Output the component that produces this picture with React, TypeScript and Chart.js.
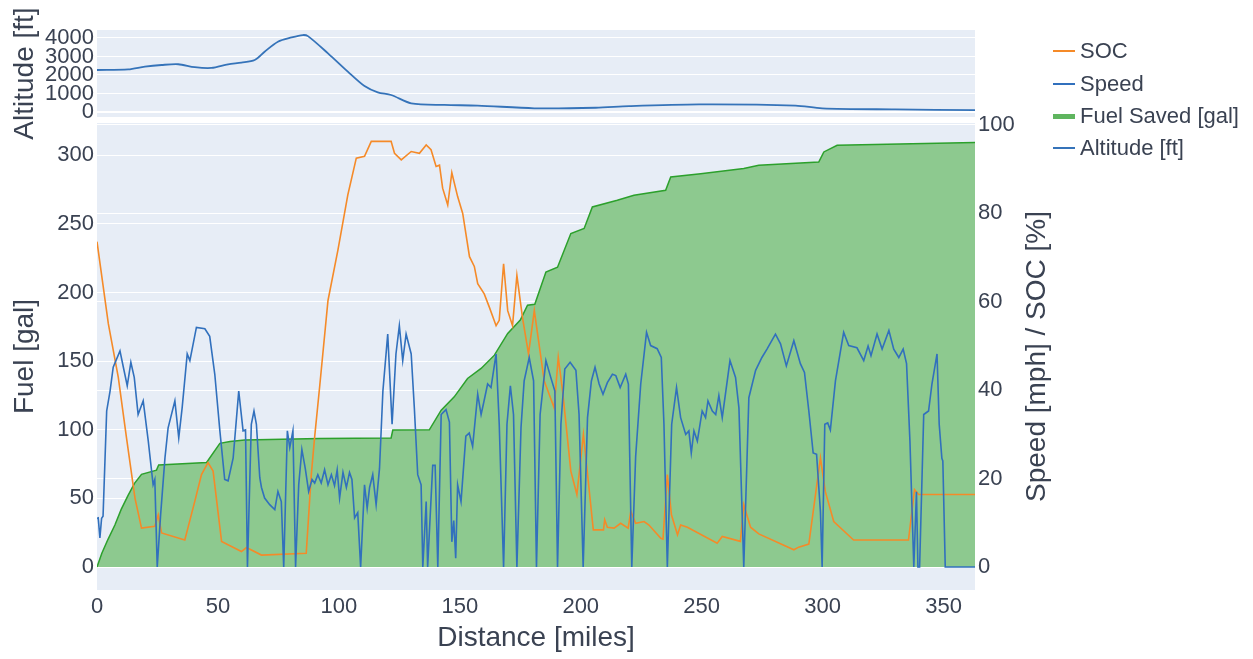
import React, { useEffect, useRef } from 'react';
import { Chart, registerables } from 'chart.js';

Chart.register(...registerables);

const FONT = '"Liberation Sans", Arial, Helvetica, sans-serif';
const TEXT = '#3a4252';
const BG = '#e7edf6';
const GRID = '#ffffff';
const SOC_COLOR = '#f58a28';
const SPEED_COLOR = '#3170bd';
const ALT_COLOR = '#3573b9';
const FUEL_LINE = '#2ca02c';
const FUEL_FILL = '#8dc98f';

// tick labels
const xTicks = [0, 50, 100, 150, 200, 250, 300, 350];
const fuelTicks = [0, 50, 100, 150, 200, 250, 300];
const pctTicks = [0, 20, 40, 60, 80, 100];
const altTicks = [0, 1000, 2000, 3000, 4000];

// Fuel Saved [gal]
const fuelMiles = [0, 2, 4.5, 7.4, 10, 12.9, 15.5, 18.4, 24.6, 25.5, 45.3, 50.8, 55, 61, 92, 121.6, 122.3, 137.4, 142.3, 147.7, 153.2, 158.8, 164.3, 169.8, 175, 178, 181, 185.6, 190.4, 195.9, 201.4, 204.8, 215.1, 222, 235.1, 237.2, 249.6, 267.4, 273.6, 298.4, 300.5, 306, 363];
const fuelGal = [0, 10, 20, 30.6, 42, 52.4, 61, 67.5, 70.6, 74.3, 76.2, 90.1, 91.5, 92.5, 93.7, 94, 99.8, 100, 114.3, 124, 137.4, 144.7, 154.4, 170.2, 180, 190.8, 191.5, 215, 218.5, 243, 246.7, 262.4, 267.3, 271, 274.6, 284.3, 286.7, 290.4, 292.8, 295.2, 302.5, 307.4, 309.3];

// Speed [mph]
const speedMiles = [0, 0.5, 1.2, 1.9, 2.5, 4, 5.4, 6.7, 9.5, 10.9, 12.5, 14, 15.4, 17, 19.1, 21.2, 23.2, 23.9, 24.9, 26.3, 28.1, 29.4, 32.2, 33.8, 35.2, 37.3, 38.4, 41.1, 44.6, 46.6, 48.7, 50.8, 52.8, 54.2, 56.3, 58.6, 60.4, 61.4, 62.2, 63.8, 64.9, 65.9, 67.3, 68, 69.3, 71.4, 73.5, 74.8, 76.2, 77.2, 78.7, 79.7, 81, 82.1, 83.4, 84.7, 86.1, 87.5, 88.9, 90, 91.3, 92.7, 94.1, 95.5, 96.9, 98.2, 99.3, 100.3, 101.7, 103.1, 104.4, 105.4, 106.5, 107.8, 109, 110.6, 111.7, 112.7, 114, 115.4, 116.8, 118.2, 120.2, 122, 123.6, 125, 126.4, 127.8, 129.9, 131.2, 132.6, 134, 134.7, 136.1, 136.7, 138.8, 139.8, 140.9, 142.3, 144.3, 145.7, 146.7, 147.5, 148.3, 149.1, 150.5, 152.5, 153.9, 155.3, 157.4, 158.8, 159.8, 161.5, 162.9, 165, 166.3, 168.1, 169.5, 170.9, 172.2, 173.6, 175.3, 176.6, 178.7, 180.5, 181.7, 183.2, 185.6, 187.6, 189.3, 190.4, 191.8, 193.4, 195.6, 198, 199.3, 201, 202.8, 204.4, 205.9, 207.6, 209.2, 211, 213.1, 214.5, 216.3, 218.6, 219.7, 221.1, 222.7, 224.8, 227.2, 228.9, 231.6, 233.3, 234.4, 235.8, 237.6, 239.6, 241.3, 243.4, 244.7, 245.7, 246.8, 248.2, 250.2, 251.6, 252.6, 254.4, 255.8, 257.1, 258.5, 261.7, 264, 265.4, 267.4, 269.5, 272.3, 274.9, 277, 280.5, 282.6, 285, 288.1, 290.8, 292.5, 294.3, 296.1, 297.5, 299.1, 299.8, 300.9, 302.1, 303.2, 305.3, 308.7, 310.8, 314.2, 317, 318.8, 320, 322.5, 324.6, 327.4, 329.4, 331.5, 333.3, 334.7, 336.1, 337, 337.7, 338.8, 339.4, 340.1, 341.8, 343.8, 345.2, 347.3, 348.2, 349.3, 349.7, 350.7, 363];
const speedMph = [11, 11.1, 6.6, 11, 11.5, 35.3, 39.8, 45.2, 48.9, 45.2, 41, 46.3, 42.9, 34.5, 37.6, 28.5, 18.6, 19.8, 0, 11.8, 24.7, 31.5, 37.6, 29.2, 36, 48.2, 46.7, 54.2, 53.9, 52.2, 43.6, 30.8, 19.8, 19.5, 24.7, 39.8, 30.8, 31, 0, 32.3, 35.3, 32.3, 20.2, 18, 15.6, 14.1, 13, 17.1, 14.8, 0, 30.8, 27, 30.8, 0, 18.6, 26.6, 22.3, 17.1, 19.8, 19, 20.9, 19, 22, 18.6, 20.9, 18.4, 22, 15.6, 21.4, 18, 21.4, 19.8, 11.1, 12.3, 0, 18.6, 13.3, 18, 20.9, 14.1, 22.3, 39.8, 52.7, 32.3, 48.2, 54.6, 46.7, 52.7, 48.2, 36, 20.9, 18.6, 0, 14.8, 0, 23, 23, 0, 34.5, 35.6, 32.8, 5.7, 10.5, 2, 18.6, 14.8, 29.6, 30.3, 27.3, 39.1, 34.5, 37, 41.4, 40.6, 48.2, 32.3, 0, 32.3, 41, 34.5, 0, 31.5, 42.1, 47.4, 42.1, 0, 34.5, 46.7, 42.9, 39.8, 0, 32.3, 44.8, 46.3, 44.5, 34.5, 0, 33.8, 42.1, 45.2, 41.4, 39.1, 41.7, 43.6, 43.3, 40.6, 43.6, 41.4, 0, 25, 41.4, 53.1, 50.1, 49.4, 47.4, 32.3, 0, 32.3, 40.6, 33.8, 30, 30.8, 25.8, 30.8, 28.5, 35.3, 33.8, 37.6, 35.3, 34.5, 38.8, 33.8, 46.7, 42.9, 36, 0, 38.3, 44.5, 47.4, 49.3, 52.7, 50.5, 45.5, 51.2, 46, 44, 35.3, 25.8, 25.5, 12.5, 0, 32.3, 32.6, 31, 42.1, 53.1, 50.1, 49.6, 46.7, 50, 47.8, 52.7, 49.3, 53.5, 49.3, 47.4, 49.3, 46, 28.5, 12.5, 0, 17, 0, 0, 34.5, 35.3, 41.4, 48.2, 32.3, 24.6, 24, 0, 0];

// SOC [%]
const socMiles = [0, 4.7, 8.8, 12.2, 15.7, 18.4, 23.9, 25.3, 26.7, 36.3, 40.4, 43.2, 45.9, 48, 51.5, 59.7, 61.8, 68, 86.5, 88.6, 90, 92, 95.5, 99.6, 103.7, 107.2, 110.6, 113.4, 121.6, 123, 125.8, 129.9, 133.3, 136.1, 138.1, 140.2, 141.6, 142.9, 145, 146.7, 149.1, 151.2, 154, 156, 157.4, 160.1, 162.2, 165, 166.3, 168.1, 169.8, 171.8, 173.6, 175.9, 178.4, 180.8, 184.9, 189, 190.7, 192.5, 195.9, 198.4, 201.1, 205.2, 209.4, 209.9, 211, 213.8, 216.5, 219.6, 220.7, 222.7, 226.2, 228.2, 233.1, 234, 235.8, 237.5, 240, 241.3, 244.1, 256.4, 258.5, 266, 267.4, 270.2, 273.6, 288.1, 290.1, 294.3, 299.1, 301.1, 304.6, 312.8, 335.5, 338, 339.7, 363];
const socPct = [73.6, 55, 42.9, 29.2, 15.6, 8.8, 9.2, 11.8, 7.7, 6.1, 14.8, 20.9, 23.6, 21.7, 5.8, 3.5, 4.4, 2.7, 3.1, 20.9, 29.5, 40.5, 60.3, 71.7, 84.2, 92.5, 92.9, 96.3, 96.3, 93.6, 92.1, 94, 93.6, 95.5, 94.4, 90.6, 90.9, 85.7, 81.9, 89.2, 83.8, 80, 70.2, 68, 64.1, 61.8, 58.8, 54.6, 55.8, 68.6, 58, 54.6, 66, 56.5, 48.2, 58, 42.1, 36, 47.4, 39.8, 21.7, 16.4, 30, 8.4, 8.4, 10.7, 9, 8.8, 9.9, 8.8, 12.6, 9.9, 10.3, 9.5, 6.5, 6.3, 20.9, 11.8, 7.3, 9.5, 9, 5.4, 6.9, 5.8, 14.1, 9, 7.5, 3.9, 4.5, 5.2, 24.7, 17.1, 10.3, 6.1, 6.1, 17.5, 16.4, 16.4];

// Altitude [ft]
const altMiles = [0, 12.9, 19.8, 26.7, 33.6, 40.4, 47.3, 54.2, 59.7, 65.2, 69.3, 74.8, 80.4, 85.1, 87.2, 95.5, 103.7, 110.6, 116.1, 121.6, 129.9, 143.6, 157.4, 180.8, 206.2, 220, 248.9, 288.8, 299.8, 330, 363];
const altFt = [2270, 2300, 2450, 2540, 2580, 2420, 2380, 2580, 2670, 2810, 3260, 3800, 4030, 4160, 4100, 3170, 2180, 1400, 1060, 920, 470, 380, 350, 200, 230, 320, 410, 350, 200, 140, 100];

const pts = (xs: number[], ys: number[]) => xs.map((x, i) => ({ x, y: ys[i] }));

const W = 1253;
const H = 659;
const PLOT_LEFT = 97;
const PLOT_RIGHT = 975;
const X_MIN = 0;
const X_MAX = 363;

const TICK_SIZE = 22;
const TITLE_SIZE = 28;

const bgPlugin = {
  id: 'plotBg',
  beforeDraw(chart: any) {
    const { ctx, chartArea } = chart;
    if (!chartArea) return;
    ctx.save();
    ctx.fillStyle = BG;
    ctx.fillRect(chartArea.left, chartArea.top, chartArea.right - chartArea.left, chartArea.bottom - chartArea.top);
    ctx.restore();
  },
};

const rightTitlePlugin = {
  id: 'rightTitle',
  afterDraw(chart: any) {
    const { ctx, chartArea } = chart;
    ctx.save();
    ctx.translate(chartArea.right + 62, (chartArea.top + chartArea.bottom) / 2);
    ctx.rotate(-Math.PI / 2);
    ctx.font = `${TITLE_SIZE}px ${FONT}`;
    ctx.fillStyle = TEXT;
    ctx.textAlign = 'center';
    ctx.textBaseline = 'middle';
    ctx.fillText('Speed [mph] / SOC [%]', 0, 0);
    ctx.restore();
  },
};

const tickFont = { family: FONT, size: TICK_SIZE };
const titleFont = { family: FONT, size: TITLE_SIZE };

const legendItems = [
  { label: 'SOC', color: SOC_COLOR, thick: 2, cy: 51 },
  { label: 'Speed', color: SPEED_COLOR, thick: 2, cy: 84 },
  { label: 'Fuel Saved [gal]', color: '#5fb55f', thick: 5, cy: 116 },
  { label: 'Altitude [ft]', color: ALT_COLOR, thick: 2.5, cy: 148 },
];

export default function App() {
  const mainRef = useRef<HTMLCanvasElement | null>(null);
  const altRef = useRef<HTMLCanvasElement | null>(null);

  useEffect(() => {
    if (!mainRef.current || !altRef.current) return;

    const main = new Chart(mainRef.current, {
      type: 'line',
      data: {
        datasets: [
          {
            label: 'Speed',
            data: pts(speedMiles, speedMph),
            yAxisID: 'yR',
            borderColor: SPEED_COLOR,
            borderWidth: 1.6,
            pointRadius: 0,
            fill: false,
            tension: 0,
          },
          {
            label: 'SOC',
            data: pts(socMiles, socPct),
            yAxisID: 'yR',
            borderColor: SOC_COLOR,
            borderWidth: 1.6,
            pointRadius: 0,
            fill: false,
            tension: 0,
          },
          {
            label: 'Fuel Saved [gal]',
            data: pts(fuelMiles, fuelGal),
            yAxisID: 'y',
            borderColor: FUEL_LINE,
            backgroundColor: FUEL_FILL,
            borderWidth: 1.5,
            pointRadius: 0,
            fill: 'origin',
            tension: 0,
          },
        ],
      },
      options: {
        animation: false,
        responsive: false,
        maintainAspectRatio: false,
        events: [],
        layout: { padding: { left: 0, top: 123, right: W - PLOT_RIGHT - 50, bottom: 0 } },
        plugins: { legend: { display: false }, tooltip: { enabled: false }, title: { display: false } },
        scales: {
          x: {
            type: 'linear',
            min: X_MIN,
            max: X_MAX,
            grid: { display: false, drawTicks: false },
            border: { display: false },
            ticks: { font: tickFont, color: TEXT, padding: 4, maxRotation: 0, autoSkip: false, callback: (v: any) => String(v) },
            afterBuildTicks: (s: any) => { s.ticks = xTicks.map((v) => ({ value: v })); },
            afterFit: (s: any) => { s.height = 69; },
            title: { display: true, text: 'Distance [miles]', color: TEXT, font: titleFont, padding: { top: 0, bottom: 4 } },
          },
          y: {
            type: 'linear',
            position: 'left',
            min: -16.76,
            max: 323.6,
            grid: { color: GRID, lineWidth: 1, drawTicks: false },
            border: { display: false },
            ticks: { font: tickFont, color: TEXT, padding: 3, autoSkip: false, callback: (v: any) => String(v) },
            afterBuildTicks: (s: any) => { s.ticks = fuelTicks.map((v) => ({ value: v })); },
            afterFit: (s: any) => { s.width = PLOT_LEFT; },
            title: { display: true, text: 'Fuel [gal]', color: TEXT, font: titleFont, padding: { top: 8, bottom: 0 } },
          },
          yR: {
            type: 'linear',
            position: 'right',
            min: -5.2,
            max: 100.45,
            grid: { color: GRID, lineWidth: 1, drawTicks: false },
            border: { display: false },
            ticks: { font: tickFont, color: TEXT, padding: 3, autoSkip: false, callback: (v: any) => String(v) },
            afterBuildTicks: (s: any) => { s.ticks = pctTicks.map((v) => ({ value: v })); },
            afterFit: (s: any) => { s.width = 50; },
          },
        },
      },
      plugins: [bgPlugin, rightTitlePlugin],
    } as any);

    const alt = new Chart(altRef.current, {
      type: 'line',
      data: {
        datasets: [
          {
            label: 'Altitude [ft]',
            data: pts(altMiles, altFt),
            borderColor: ALT_COLOR,
            borderWidth: 1.8,
            pointRadius: 0,
            fill: false,
            tension: 0.3,
          },
        ],
      },
      options: {
        animation: false,
        responsive: false,
        maintainAspectRatio: false,
        events: [],
        layout: { padding: { left: 0, top: 30, right: W - PLOT_RIGHT, bottom: H - 117 } },
        plugins: { legend: { display: false }, tooltip: { enabled: false }, title: { display: false } },
        scales: {
          x: { type: 'linear', min: X_MIN, max: X_MAX, display: false },
          y: {
            type: 'linear',
            position: 'left',
            min: -270,
            max: 4432,
            grid: { color: GRID, lineWidth: (c: any) => (c.tick && c.tick.value === 0 ? 2 : 1), drawTicks: false },
            border: { display: false },
            ticks: { font: tickFont, color: TEXT, padding: 3, autoSkip: false, callback: (v: any) => String(v) },
            afterBuildTicks: (s: any) => { s.ticks = altTicks.map((v) => ({ value: v })); },
            afterFit: (s: any) => { s.width = PLOT_LEFT; },
            title: { display: true, text: 'Altitude [ft]', color: TEXT, font: titleFont, padding: { top: 8, bottom: 0 } },
          },
        },
      },
      plugins: [bgPlugin],
    } as any);

    return () => {
      main.destroy();
      alt.destroy();
    };
  }, []);

  return (
    <div style={{ position: 'absolute', left: 0, top: 0, width: W, height: H, background: '#ffffff', overflow: 'hidden' }}>
      <canvas ref={mainRef} width={W} height={H} style={{ position: 'absolute', left: 0, top: 0, width: W, height: H, display: 'block' }} />
      <canvas ref={altRef} width={W} height={H} style={{ position: 'absolute', left: 0, top: 0, width: W, height: H, display: 'block' }} />
      {legendItems.map((it) => (
        <div
          key={it.label}
          style={{
            position: 'absolute',
            left: 1053,
            top: it.cy - 13,
            height: 26,
            display: 'flex',
            alignItems: 'center',
            fontFamily: FONT,
            fontSize: 22,
            color: TEXT,
            whiteSpace: 'nowrap',
            lineHeight: 1,
          }}
        >
          <span style={{ display: 'inline-block', width: 22, height: it.thick, background: it.color, marginRight: 5 }} />
          <span>{it.label}</span>
        </div>
      ))}
    </div>
  );
}
